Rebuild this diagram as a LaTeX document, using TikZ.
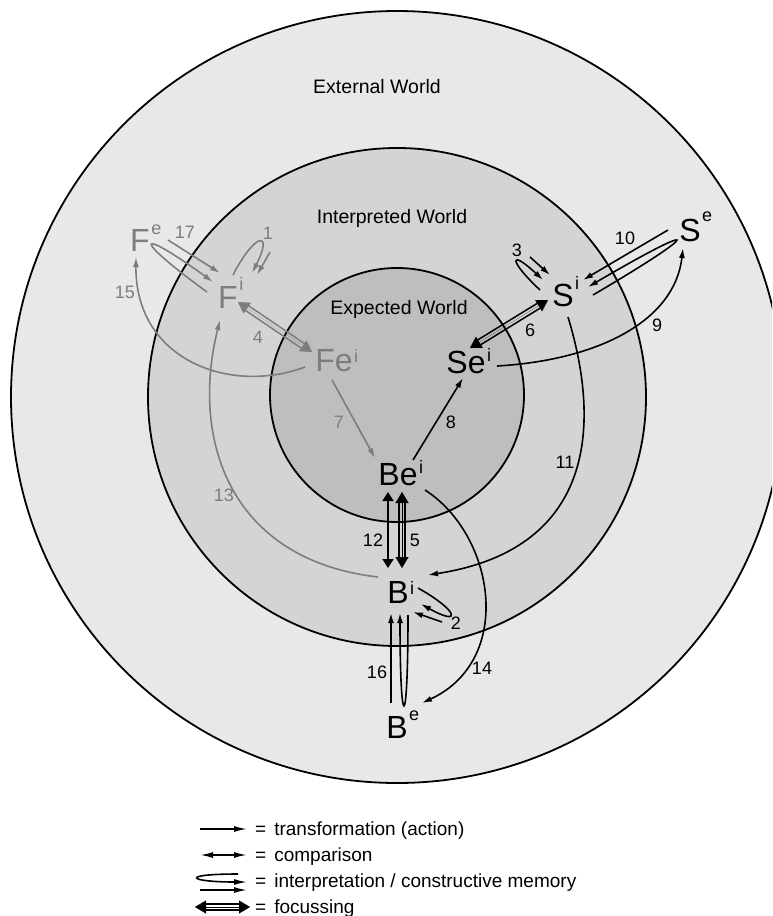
\documentclass[tikz,border=0pt]{standalone}
\usepackage{fontspec}
\setmainfont{Liberation Sans}
\usepackage{tikz}
\usetikzlibrary{arrows.meta,calc}

\definecolor{extworld}{RGB}{232,232,232}
\definecolor{intworld}{RGB}{212,212,212}
\definecolor{expworld}{RGB}{190,190,190}
\definecolor{fgray}{RGB}{125,125,125}

% raised index after a state letter
\newcommand\ssup[2]{\rlap{\smash{\hspace{1.5pt}\raisebox{#1pt}{\fontsize{18}{18}\selectfont #2}}}}
% focussing arrow: double line, big heads
\newcommand\focusarr[3]{%
  \draw[#1,line width=0.1pt,{Triangle[length=11pt,width=13pt]}-{Triangle[length=11pt,width=13pt]}] (#2) -- (#3);
  \draw[#1,line width=1.5pt] ($(#2)!9pt!(#3)!2.8pt!90:(#3)$) -- ($(#3)!9pt!(#2)!2.8pt!-90:(#2)$);
  \draw[#1,line width=1.5pt] ($(#2)!9pt!(#3)!2.8pt!-90:(#3)$) -- ($(#3)!9pt!(#2)!2.8pt!90:(#2)$);}

\tikzset{
  trans/.style={line width=1.6pt,-{Latex[length=10pt,width=6pt]}},
  compar/.style={line width=1.7pt,{Triangle[length=9pt,width=11pt]}-{Triangle[length=9pt,width=11pt]}},
  stlabel/.style={inner sep=0pt,font=\fontsize{32}{32}\selectfont},
  numlabel/.style={inner sep=0pt,font=\fontsize{18}{18}\selectfont},
  worldlabel/.style={inner sep=0pt,anchor=base,font=\fontsize{19.5}{20}\selectfont},
  legtext/.style={inner sep=0pt,anchor=base west,font=\fontsize{19}{20}\selectfont},
}

\begin{document}
\begin{tikzpicture}[x=1pt,y=-1pt]
\useasboundingbox (0,0) rectangle (772,916);
\fill[white] (0,0) rectangle (772,916);
\begin{scope}
  \clip (0,0) rectangle (772,916);
  \draw[line width=1.8pt,fill=extworld] (397,397) circle (386pt);
\end{scope}
\draw[line width=1.8pt,fill=intworld] (397,397) circle (249pt);
\draw[line width=1.8pt,fill=expworld] (397,395) circle (127pt);

\node[worldlabel] (extw) at (377,93) {External World};
\node[worldlabel] (intw) at (392,223) {Interpreted World};
\node[worldlabel] (expw) at (399,314) {Expected World};

% states
\node[stlabel,fgray] (Fe)  at (140,240) {F\ssup{17}{e}};
\node[stlabel,fgray] (Fi)  at (228,297) {F\ssup{18}{i}};
\node[stlabel,fgray] (Fei) at (334,361) {Fe\ssup{9}{i}};
\node[stlabel] (Sei) at (466,362) {Se\ssup{12}{i}};
\node[stlabel] (Si)  at (563,295) {S\ssup{17}{i}};
\node[stlabel] (Se)  at (690,230) {S\ssup{20}{e}};
\node[stlabel] (Bei) at (398,475) {Be\ssup{12}{i}};
\node[stlabel] (Bi)  at (398,592) {B\ssup{9}{i}};
\node[stlabel] (Be)  at (397,727) {B\ssup{18}{e}};

% function side (grey)
\draw[trans,fgray] ($(Fe)+(28,0)$) -- ($(Fi)+(-8,-24)$);
\draw[trans,fgray] ($(Fi)+(-21,-5)$) .. controls +(-77,-56) and +(-77,-56) .. ($(Fi)+(-15,-15)$);
\draw[trans,fgray] ($(Fi)+(5,-22)$) .. controls +(22,-43) and +(22,-43) .. ($(Fi)+(24,-24)$);
\draw[trans,fgray] ($(Fi)+(42,-45)$) -- ($(Fi)+(29,-22)$);
\draw[trans,fgray] ($(Fei)+(-29,6)$) .. controls +(-75,28) and +(-1,103) .. ($(Fe)+(-4,17)$);
\coordinate (f4a) at ($(Fi)+(10,5)$);
\coordinate (f4b) at ($(Fei)+(-22,-9)$);
\focusarr{fgray}{f4a}{f4b}
\draw[trans,fgray] ($(Fei)+(-2,19)$) -- ($(Bei)+(-23,-17)$);
\draw[trans,fgray] ($(Bi)+(-20,-15)$) .. controls +(-148,-17) and +(-30,120) .. ($(Fi)+(-8,23)$);

% structure side
\draw[trans] ($(Bei)+(15,-15)$) -- ($(Sei)+(-3,16)$);
\coordinate (f6a) at ($(Sei)+(4,-14)$);
\coordinate (f6b) at ($(Si)+(-15,5)$);
\focusarr{black}{f6a}{f6b}
\draw[trans] ($(Si)+(-23,-5)$) .. controls +(-33,-31) and +(-33,-31) .. ($(Si)+(-20,-15)$);
\draw[trans] ($(Si)+(-33,-38)$) -- ($(Si)+(-13,-20)$);
\draw[trans] ($(Se)+(-22,0)$) -- ($(Si)+(20,-15)$);
\draw[trans] ($(Si)+(30,0)$) .. controls +(114,-67) and +(114,-67) .. ($(Si)+(25,-8)$);
\draw[trans] ($(Sei)+(31,4)$) .. controls +(103,-6) and +(-8,72) .. ($(Se)+(-7,18)$);
\draw[trans] ($(Si)+(5,22)$) .. controls +(35,115) and +(162,-25) .. ($(Bi)+(30,-17)$);

% behaviour side
\draw[compar] ($(Bei)+(-10,17)$) -- ($(Bi)+(-10,-24)$);
\coordinate (f5a) at ($(Bei)+(4,17)$);
\coordinate (f5b) at ($(Bi)+(4,-24)$);
\focusarr{black}{f5a}{f5b}
\draw[trans] ($(Bi)+(20,-4)$) .. controls +(41,23) and +(41,23) .. ($(Bi)+(23,12)$);
\draw[trans] ($(Bi)+(44,30)$) -- ($(Bi)+(15,20)$);
\draw[trans] ($(Bei)+(27,15)$) .. controls +(70,45) and +(93,-43) .. ($(Be)+(25,-24)$);
\draw[trans] ($(Be)+(-6,-24)$) -- ($(Bi)+(-7,21)$);
\draw[trans] ($(Bi)+(10,23)$) .. controls +(0,121) and +(0,121) .. ($(Bi)+(2,21)$);

% numbers
\foreach \n/\x/\y/\c in {1/268/233/fgray,2/456/623/black,3/517/250/black,4/258/337/fgray,
  5/415/540/black,6/530/330/black,7/339/422/fgray,8/451/422/black,9/657/325/black,
  10/625/238/black,11/565/462/black,12/373/540/black,13/224/495/fgray,14/482/668/black,
  15/125/292/fgray,16/377/672/black,17/185/232/fgray}
  \node[numlabel,text=\c] (lab\n) at (\x,\y) {\n};

% legend
\node[legtext] (lg1) at (255,835) {=\hspace{8pt}transformation (action)};
\node[legtext] (lg2) at (255,861) {=\hspace{8pt}comparison};
\node[legtext] (lg3) at (255,887) {=\hspace{8pt}interpretation / constructive memory};
\node[legtext] (lg4) at (255,913) {=\hspace{8pt}focussing};
\draw[trans,-{Latex[length=13pt,width=6pt]}] ($(lg1.base west)+(-55,-6)$) -- ($(lg1.base west)+(-8,-6)$);
\draw[compar,{Latex[length=13pt,width=6pt]}-{Latex[length=13pt,width=6pt]}] ($(lg2.base west)+(-55,-6)$) -- ($(lg2.base west)+(-8,-6)$);
\draw[trans,-{Latex[length=13pt,width=6pt]}] ($(lg3.base west)+(-17,-13)$) .. controls +(-59,0) and +(-59,0) .. ($(lg3.base west)+(-8,-5)$);
\draw[trans,-{Latex[length=13pt,width=6pt]}] ($(lg3.base west)+(-55,3)$) -- ($(lg3.base west)+(-8,3)$);
\coordinate (lf1) at ($(lg4.base west)+(-60,-6)$);
\coordinate (lf2) at ($(lg4.base west)+(-5,-6)$);
\focusarr{black}{lf1}{lf2}
\end{tikzpicture}
\end{document}
